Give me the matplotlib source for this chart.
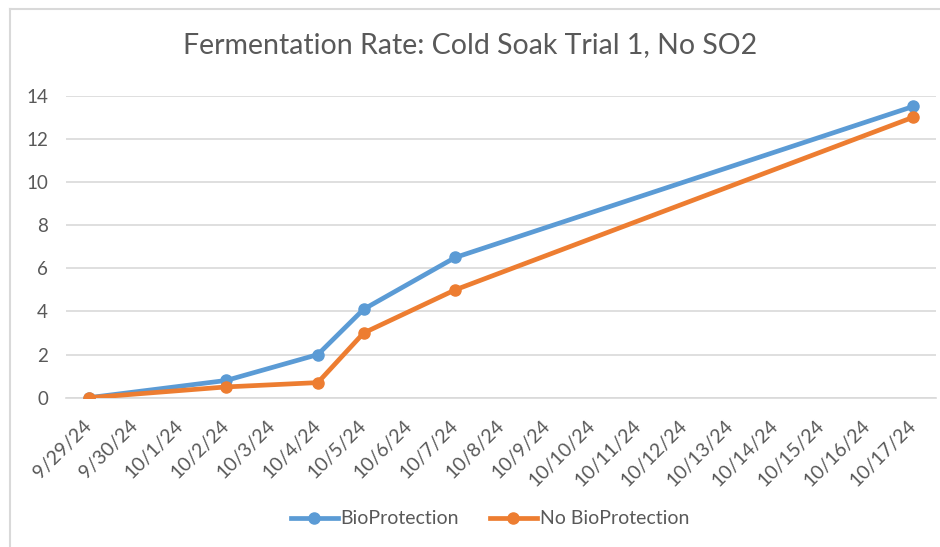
import matplotlib.pyplot as plt
import pandas as pd
from matplotlib.lines import Line2D

# dates on the category axis (daily)
all_days = pd.date_range('2024-09-29', '2024-10-17', freq='D')
tick_labels = [f'{d.month}/{d.day}/{d.strftime("%y")}' for d in all_days]

# measured dates and values
dates = pd.to_datetime(['2024-09-29', '2024-10-02', '2024-10-04',
                        '2024-10-05', '2024-10-07', '2024-10-17'])
bio = [0.0, 0.8, 2.0, 4.1, 6.5, 13.5]
no_bio = [0.0, 0.5, 0.7, 3.0, 5.0, 13.0]

BLUE = '#5B9BD5'
ORANGE = '#ED7D31'
GRAY = '#595959'
GRID = '#D9D9D9'

plt.rcParams['font.family'] = ['Lato', 'DejaVu Sans']

fig = plt.figure(figsize=(9.4, 5.47), dpi=100)
ax = fig.add_axes([66 / 940, 1 - 397.7 / 547, (936 - 66) / 940, (397.7 - 95.7) / 547])

x0 = all_days[0]
xb = [(d - x0).days for d in dates]

ax.plot(xb, bio, color=BLUE, lw=3.4, marker='o', ms=8, solid_capstyle='round',
        label='BioProtection', zorder=3)
ax.plot(xb, no_bio, color=ORANGE, lw=3.4, marker='o', ms=8, solid_capstyle='round',
        label='No BioProtection', zorder=3)

ax.set_xlim(-0.5, len(all_days) - 0.5)
ax.set_ylim(0, 14)
ax.set_yticks(range(0, 15, 2))
ax.yaxis.grid(True, color=GRID, lw=1.2)
ax.set_axisbelow(True)
for s in ['top', 'right', 'left']:
    ax.spines[s].set_visible(False)
ax.spines['bottom'].set_color(GRID)
ax.spines['bottom'].set_linewidth(1.2)
ax.tick_params(axis='both', length=0, colors=GRAY, labelsize=13.5)
ax.tick_params(axis='y', pad=13)

ax.set_xticks(range(len(all_days)))
ax.set_xticklabels(tick_labels, rotation=45, ha='right', rotation_mode='anchor',
                   va='center', fontsize=14)
ax.tick_params(axis='x', pad=18)

fig.text(0.5, 1 - 45 / 547, 'Fermentation Rate: Cold Soak Trial 1, No SO2',
         ha='center', va='center', fontsize=20.5, color=GRAY)

handles = [Line2D([], [], color=BLUE, lw=3.4, marker='o', ms=8),
           Line2D([], [], color=ORANGE, lw=3.4, marker='o', ms=8)]
fig.legend(handles, ['BioProtection', 'No BioProtection'], loc='center',
           bbox_to_anchor=(490 / 940, 1 - 519 / 547), ncol=2, frameon=False,
           fontsize=14, labelcolor=GRAY, handlelength=2.4, handletextpad=0.15,
           columnspacing=1.6)

# chart border (Excel chart area)
fig.add_artist(Line2D([10 / 940, 10 / 940], [0, 1 - 9 / 547],
                      color=GRID, lw=1.5, transform=fig.transFigure))
fig.add_artist(Line2D([10 / 940, 1], [1 - 9 / 547, 1 - 9 / 547],
                      color=GRID, lw=1.5, transform=fig.transFigure))

fig.savefig('out.png', dpi=100)
